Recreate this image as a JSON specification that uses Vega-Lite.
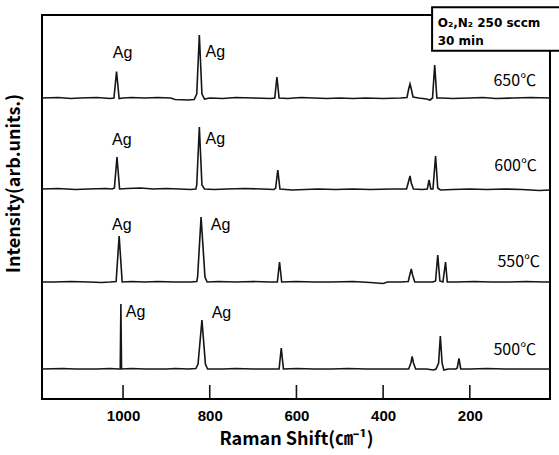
{
  "$schema": "https://vega.github.io/schema/vega-lite/v6.json",
  "autosize": {"type": "none"},
  "width": 508,
  "height": 384,
  "padding": {"left": 42, "top": 15, "right": 9, "bottom": 56},
  "background": "white",
  "config": {
    "view": {"stroke": "black", "strokeWidth": 2},
    "axis": {"grid": false}
  },
  "datasets": {
    "spectra": [
      {"t":"k1000","x":1000,"y":0},{"t":"k1000","x":1000,"y":14},
      {"t":"k800","x":800,"y":0},{"t":"k800","x":800,"y":14},
      {"t":"k600","x":600,"y":0},{"t":"k600","x":600,"y":14},
      {"t":"k400","x":400,"y":0},{"t":"k400","x":400,"y":14},
      {"t":"k200","x":200,"y":0},{"t":"k200","x":200,"y":14},

      {"t":"650","x":1187,"y":301},{"t":"650","x":1150,"y":301.5},{"t":"650","x":1120,"y":300.5},{"t":"650","x":1100,"y":301},{"t":"650","x":1060,"y":301.5},{"t":"650","x":1030,"y":300.5},{"t":"650","x":1021,"y":301},{"t":"650","x":1015,"y":327.5},{"t":"650","x":1009,"y":300.5},{"t":"650","x":1000,"y":301},{"t":"650","x":980,"y":301.5},{"t":"650","x":950,"y":301},{"t":"650","x":920,"y":301.5},{"t":"650","x":890,"y":301},{"t":"650","x":880,"y":299.5},{"t":"650","x":850,"y":299},{"t":"650","x":836,"y":299.5},{"t":"650","x":830,"y":305},{"t":"650","x":824,"y":364},{"t":"650","x":818,"y":305},{"t":"650","x":812,"y":300},{"t":"650","x":800,"y":301},{"t":"650","x":770,"y":300.5},{"t":"650","x":740,"y":301.5},{"t":"650","x":700,"y":301},{"t":"650","x":660,"y":300.5},{"t":"650","x":650,"y":301},{"t":"650","x":645,"y":322},{"t":"650","x":640,"y":301},{"t":"650","x":620,"y":300.5},{"t":"650","x":590,"y":301.5},{"t":"650","x":560,"y":301},{"t":"650","x":530,"y":300.5},{"t":"650","x":500,"y":301},{"t":"650","x":470,"y":300.5},{"t":"650","x":440,"y":301},{"t":"650","x":400,"y":300.5},{"t":"650","x":360,"y":301},{"t":"650","x":345,"y":301.5},{"t":"650","x":341,"y":310},{"t":"650","x":338,"y":315},{"t":"650","x":335,"y":310},{"t":"650","x":331,"y":302},{"t":"650","x":318,"y":301},{"t":"650","x":300,"y":300},{"t":"650","x":292,"y":299},{"t":"650","x":286,"y":301},{"t":"650","x":281,"y":334},{"t":"650","x":276,"y":301},{"t":"650","x":265,"y":301},{"t":"650","x":240,"y":300.5},{"t":"650","x":200,"y":301},{"t":"650","x":170,"y":301.5},{"t":"650","x":140,"y":300.5},{"t":"650","x":100,"y":301},{"t":"650","x":60,"y":301.5},{"t":"650","x":15,"y":301},

      {"t":"600","x":1187,"y":210},{"t":"600","x":1150,"y":210.5},{"t":"600","x":1110,"y":209.5},{"t":"600","x":1080,"y":210},{"t":"600","x":1040,"y":210.5},{"t":"600","x":1025,"y":210},{"t":"600","x":1020,"y":211},{"t":"600","x":1014,"y":242},{"t":"600","x":1008,"y":210},{"t":"600","x":990,"y":210.5},{"t":"600","x":960,"y":211},{"t":"600","x":930,"y":210},{"t":"600","x":900,"y":210.5},{"t":"600","x":870,"y":210},{"t":"600","x":845,"y":209.5},{"t":"600","x":832,"y":210},{"t":"600","x":830,"y":214},{"t":"600","x":824,"y":272},{"t":"600","x":818,"y":214},{"t":"600","x":812,"y":210},{"t":"600","x":790,"y":209.5},{"t":"600","x":760,"y":210},{"t":"600","x":720,"y":210.5},{"t":"600","x":680,"y":210},{"t":"600","x":652,"y":209.5},{"t":"600","x":648,"y":211},{"t":"600","x":643,"y":229},{"t":"600","x":638,"y":210},{"t":"600","x":610,"y":209},{"t":"600","x":580,"y":209.5},{"t":"600","x":550,"y":210},{"t":"600","x":510,"y":209.5},{"t":"600","x":470,"y":210},{"t":"600","x":430,"y":209.5},{"t":"600","x":380,"y":210},{"t":"600","x":346,"y":210},{"t":"600","x":341,"y":218},{"t":"600","x":338,"y":223},{"t":"600","x":335,"y":216},{"t":"600","x":330,"y":210},{"t":"600","x":310,"y":209.5},{"t":"600","x":298,"y":210},{"t":"600","x":294,"y":219},{"t":"600","x":290,"y":210},{"t":"600","x":285,"y":210},{"t":"600","x":279,"y":243},{"t":"600","x":274,"y":211},{"t":"600","x":268,"y":209},{"t":"600","x":240,"y":209.5},{"t":"600","x":200,"y":210},{"t":"600","x":160,"y":209.5},{"t":"600","x":120,"y":210},{"t":"600","x":80,"y":209.5},{"t":"600","x":40,"y":208.5},{"t":"600","x":15,"y":209},

      {"t":"550","x":1187,"y":117},{"t":"550","x":1160,"y":117},{"t":"550","x":1120,"y":117.5},{"t":"550","x":1080,"y":117},{"t":"550","x":1050,"y":116.5},{"t":"550","x":1030,"y":117},{"t":"550","x":1016,"y":117.5},{"t":"550","x":1009,"y":163},{"t":"550","x":1002,"y":117},{"t":"550","x":980,"y":117.5},{"t":"550","x":950,"y":117},{"t":"550","x":920,"y":117.5},{"t":"550","x":880,"y":117},{"t":"550","x":845,"y":117},{"t":"550","x":830,"y":117.5},{"t":"550","x":828,"y":122},{"t":"550","x":820,"y":182},{"t":"550","x":811,"y":122},{"t":"550","x":806,"y":117},{"t":"550","x":780,"y":117.5},{"t":"550","x":740,"y":117},{"t":"550","x":700,"y":117.5},{"t":"550","x":660,"y":117},{"t":"550","x":644,"y":117},{"t":"550","x":639,"y":137},{"t":"550","x":634,"y":117},{"t":"550","x":600,"y":117.5},{"t":"550","x":560,"y":117},{"t":"550","x":520,"y":117},{"t":"550","x":470,"y":117.5},{"t":"550","x":430,"y":116.5},{"t":"550","x":400,"y":115.5},{"t":"550","x":390,"y":117},{"t":"550","x":360,"y":117},{"t":"550","x":342,"y":117.5},{"t":"550","x":338,"y":125},{"t":"550","x":335,"y":130},{"t":"550","x":332,"y":124},{"t":"550","x":327,"y":117},{"t":"550","x":300,"y":117},{"t":"550","x":285,"y":117},{"t":"550","x":279,"y":118},{"t":"550","x":274,"y":144},{"t":"550","x":269,"y":118},{"t":"550","x":262,"y":117},{"t":"550","x":256,"y":137},{"t":"550","x":252,"y":117},{"t":"550","x":230,"y":117},{"t":"550","x":190,"y":117.5},{"t":"550","x":150,"y":117},{"t":"550","x":110,"y":117},{"t":"550","x":70,"y":117.5},{"t":"550","x":30,"y":117},{"t":"550","x":15,"y":117},

      {"t":"500","x":1187,"y":30},{"t":"500","x":1140,"y":30.5},{"t":"500","x":1110,"y":30},{"t":"500","x":1060,"y":30},{"t":"500","x":1030,"y":30.5},{"t":"500","x":1010,"y":30},{"t":"500","x":1006.5,"y":30},{"t":"500","x":1005,"y":95},{"t":"500","x":1003.5,"y":30},{"t":"500","x":980,"y":30.5},{"t":"500","x":950,"y":30},{"t":"500","x":900,"y":30},{"t":"500","x":880,"y":30.5},{"t":"500","x":850,"y":30},{"t":"500","x":832,"y":30.5},{"t":"500","x":827,"y":35},{"t":"500","x":818,"y":79},{"t":"500","x":810,"y":35},{"t":"500","x":805,"y":30},{"t":"500","x":770,"y":30},{"t":"500","x":740,"y":30.5},{"t":"500","x":700,"y":30},{"t":"500","x":650,"y":30},{"t":"500","x":640,"y":30},{"t":"500","x":635,"y":51},{"t":"500","x":630,"y":30},{"t":"500","x":600,"y":30.5},{"t":"500","x":560,"y":30},{"t":"500","x":520,"y":30},{"t":"500","x":480,"y":30.5},{"t":"500","x":440,"y":30},{"t":"500","x":400,"y":30},{"t":"500","x":360,"y":30},{"t":"500","x":341,"y":30},{"t":"500","x":336,"y":36},{"t":"500","x":333,"y":42.5},{"t":"500","x":330,"y":36},{"t":"500","x":325,"y":30},{"t":"500","x":300,"y":30},{"t":"500","x":284,"y":29},{"t":"500","x":278,"y":30},{"t":"500","x":272,"y":36},{"t":"500","x":268,"y":63},{"t":"500","x":264,"y":36},{"t":"500","x":260,"y":29},{"t":"500","x":250,"y":30},{"t":"500","x":232,"y":30},{"t":"500","x":229,"y":31},{"t":"500","x":225,"y":40.5},{"t":"500","x":221,"y":30},{"t":"500","x":200,"y":30},{"t":"500","x":160,"y":30.5},{"t":"500","x":120,"y":30},{"t":"500","x":80,"y":30},{"t":"500","x":40,"y":30},{"t":"500","x":15,"y":30}
    ],
    "ag": [
      {"x":1001,"y":346,"label":"Ag"},{"x":787,"y":347,"label":"Ag"},
      {"x":1003,"y":259,"label":"Ag"},{"x":787,"y":260,"label":"Ag"},
      {"x":1003,"y":174,"label":"Ag"},{"x":775,"y":174,"label":"Ag"},
      {"x":971,"y":87,"label":"Ag"},{"x":773,"y":86,"label":"Ag"}
    ],
    "temps": [
      {"x":47,"y":318,"label":"650℃"},
      {"x":45,"y":233,"label":"600℃"},
      {"x":38,"y":137,"label":"550℃"},
      {"x":47,"y":49,"label":"500℃"}
    ],
    "box": [{"x":287,"x2":-14,"y":391.7,"y2":348.3}],
    "boxtext": [
      {"x":274,"y":376.3,"label":"O₂,N₂ 250 sccm"},
      {"x":274,"y":358.3,"label":"30 min"}
    ]
  },
  "layer": [
    {
      "data": {"name": "spectra"},
      "mark": {"type": "line", "color": "#151515", "strokeWidth": 1.6},
      "encoding": {
        "x": {
          "field": "x", "type": "quantitative",
          "scale": {"domain": [1187, 15], "nice": false, "zero": false},
          "axis": {
            "values": [1000, 800, 600, 400, 200],
            "format": "d",
            "domain": false,
            "ticks": false,
            "labelPadding": 9,
            "labelFont": "Liberation Sans", "labelFontWeight": "bold", "labelFontSize": 15, "labelColor": "black",
            "title": "Raman Shift(㎝⁻¹)",
            "titleFont": "Noto Sans CJK KR", "titleFontWeight": "bold", "titleFontSize": 18, "titleColor": "black",
            "titleY": 31
          }
        },
        "y": {
          "field": "y", "type": "quantitative",
          "scale": {"domain": [0, 384], "nice": false, "zero": false},
          "axis": {
            "labels": false, "ticks": false, "domain": false,
            "title": "Intensity(arb.units.)",
            "titleFont": "Noto Sans CJK KR", "titleFontWeight": "bold", "titleFontSize": 18, "titleColor": "black",
            "titleX": -28, "titleY": 168, "titleBaseline": "middle", "titleAngle": 270
          }
        },
        "detail": {"field": "t"}
      }
    },
    {
      "data": {"name": "ag"},
      "mark": {"type": "text", "font": "Liberation Sans", "fontSize": 16, "color": "black", "align": "center", "baseline": "middle"},
      "encoding": {
        "x": {"field": "x", "type": "quantitative"},
        "y": {"field": "y", "type": "quantitative"},
        "text": {"field": "label"}
      }
    },
    {
      "data": {"name": "temps"},
      "mark": {"type": "text", "font": "Noto Sans CJK KR", "fontSize": 16, "color": "black", "align": "right", "baseline": "middle"},
      "encoding": {
        "x": {"field": "x", "type": "quantitative"},
        "y": {"field": "y", "type": "quantitative"},
        "text": {"field": "label"}
      }
    },
    {
      "data": {"name": "box"},
      "mark": {"type": "rect", "fill": "white", "stroke": "black", "strokeWidth": 2, "clip": false},
      "encoding": {
        "x": {"field": "x", "type": "quantitative"},
        "x2": {"field": "x2"},
        "y": {"field": "y", "type": "quantitative"},
        "y2": {"field": "y2"}
      }
    },
    {
      "data": {"name": "boxtext"},
      "mark": {"type": "text", "font": "DejaVu Sans", "fontWeight": "bold", "fontSize": 12, "color": "black", "align": "left", "baseline": "middle"},
      "encoding": {
        "x": {"field": "x", "type": "quantitative"},
        "y": {"field": "y", "type": "quantitative"},
        "text": {"field": "label"}
      }
    }
  ]
}
